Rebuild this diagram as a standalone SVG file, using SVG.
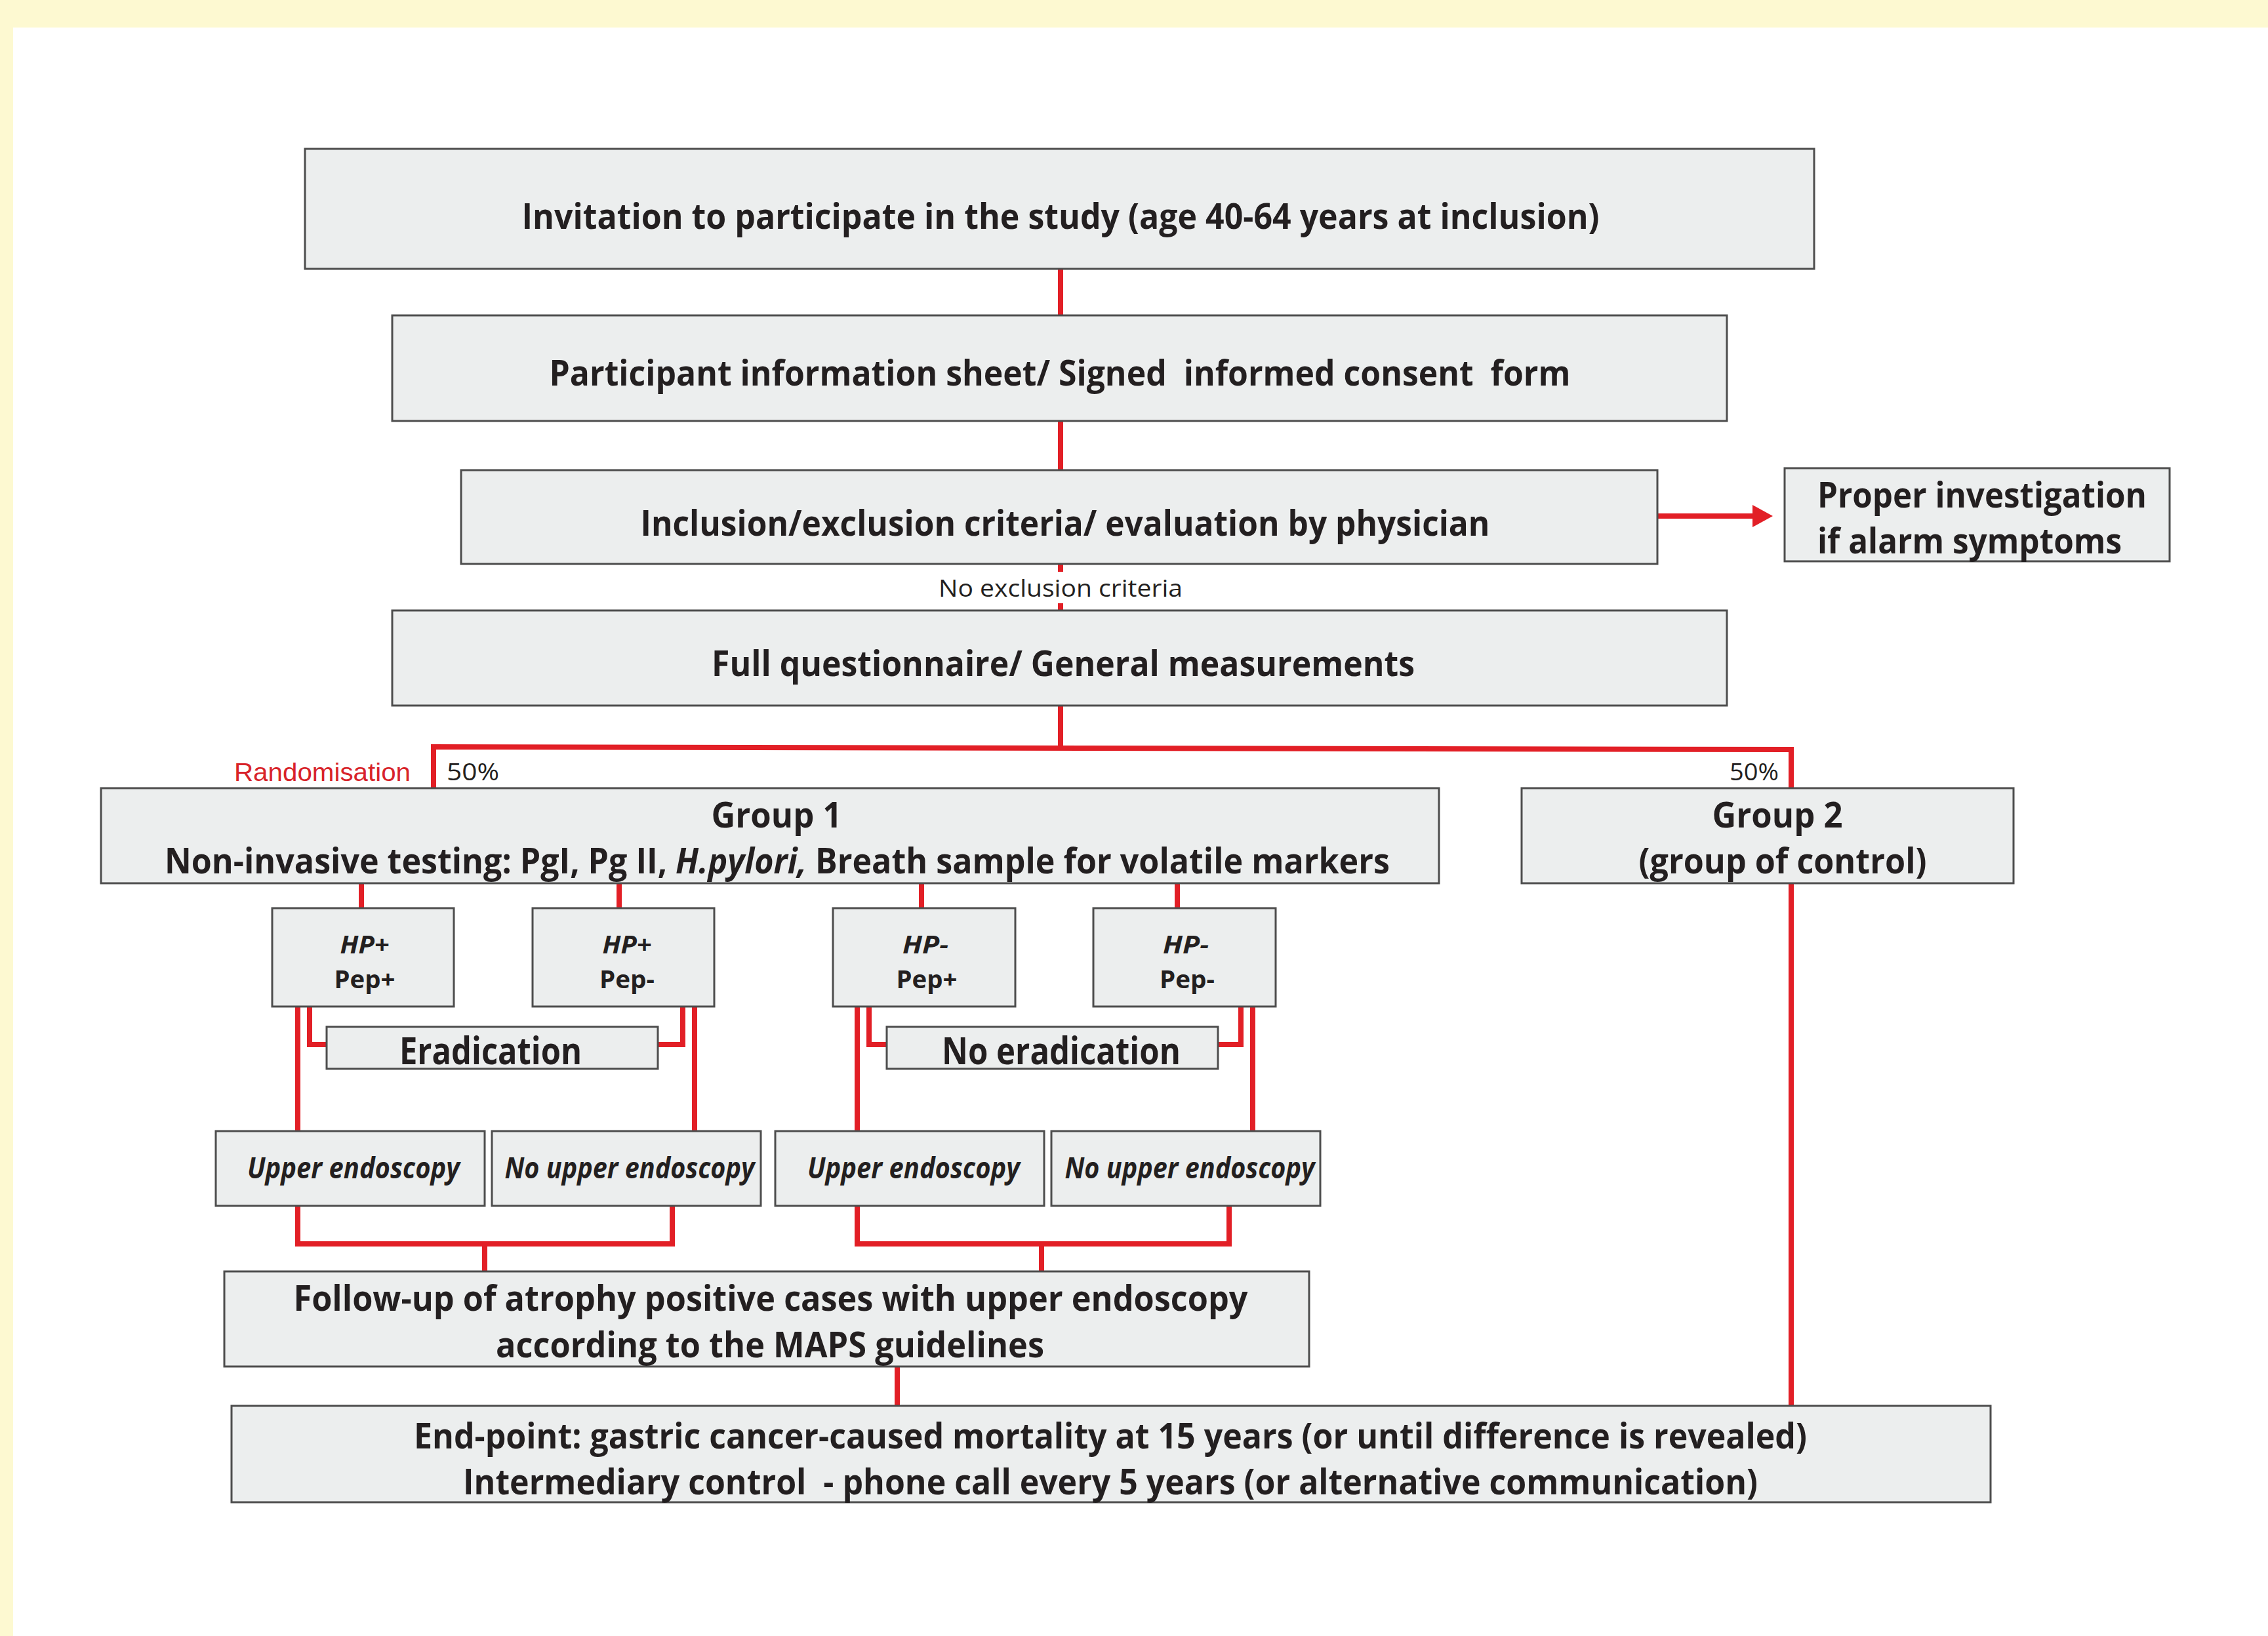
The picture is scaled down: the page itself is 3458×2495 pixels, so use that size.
<svg xmlns="http://www.w3.org/2000/svg" width="3458" height="2495" viewBox="0 0 3458 2495">
<style>
.box{fill:#ECEEEE;stroke:#4D4D4D;stroke-width:3}
.t{font-family:"Open Sans","Noto Sans","DejaVu Sans",sans-serif;font-weight:700;fill:#231F20;text-anchor:middle}
.m{font-size:53px}
.b{font-size:57px}
.s{font-size:38px}
.e{font-size:44px;font-style:italic}
.i{font-style:italic}
.p{white-space:pre}
.r{font-family:"Open Sans","Noto Sans","DejaVu Sans",sans-serif;font-weight:400;fill:#231F20;font-size:37px}
.rd{font-family:"Liberation Sans","Arial",sans-serif;font-weight:400;fill:#D8232A;font-size:39px}
.c{fill:none;stroke:#E21F26;stroke-width:8}
</style>
<rect x="0" y="0" width="3458" height="2495" fill="#FDF9D1"/>
<rect x="20" y="42" width="3438" height="2453" fill="#FFFFFF"/>

<g id="connectors">
<path class="c" d="M1617 410V481M1617 642V717M1617 860V872M1617 920V931"/>
<path class="c" d="M2527 787H2676"/>
<polygon points="2672,770 2703,787 2672,804" fill="#E21F26"/>
<path class="c" d="M1617 1076V1141"/>
<path class="c" d="M661 1202V1139L2731 1143V1202"/>
<path class="c" d="M2731 1347V2144"/>
<path class="c" d="M551 1347V1385M944 1347V1385M1405 1347V1385M1795 1347V1385"/>
<path class="c" d="M454 1535V1725M472 1535V1593H498M1041 1535V1593H1003M1059 1535V1725"/>
<path class="c" d="M1307 1535V1725M1325 1535V1593H1352M1892 1535V1593H1857M1910 1535V1725"/>
<path class="c" d="M454 1839V1897H1025V1839M739 1897V1939"/>
<path class="c" d="M1307 1839V1897H1874V1839M1588 1897V1939"/>
<path class="c" d="M1368 2084V2144"/>
</g>

<g id="invitation">
<rect class="box" x="465" y="227" width="2301" height="183"/>
<text class="t m" x="1617" y="349" textLength="1643" lengthAdjust="spacingAndGlyphs">Invitation to participate in the study (age 40-64 years at inclusion)</text>
</g>
<g id="consent">
<rect class="box" x="598" y="481" width="2035" height="161"/>
<text class="t m p" x="1616" y="588" xml:space="preserve" textLength="1557" lengthAdjust="spacingAndGlyphs">Participant information sheet/ Signed  informed consent  form</text>
</g>
<g id="criteria">
<rect class="box" x="703" y="717" width="1824" height="143"/>
<text class="t m" x="1624" y="817" textLength="1295" lengthAdjust="spacingAndGlyphs">Inclusion/exclusion criteria/ evaluation by physician</text>
</g>
<g id="proper">
<rect class="box" x="2721" y="714" width="587" height="142"/>
<text class="t m" x="2771" y="774" style="text-anchor:start" textLength="502" lengthAdjust="spacingAndGlyphs">Proper investigation</text>
<text class="t m" x="2771" y="844" style="text-anchor:start" textLength="464" lengthAdjust="spacingAndGlyphs">if alarm symptoms</text>
</g>
<g id="no-exclusion-label">
<text class="r" x="1617" y="910" text-anchor="middle" textLength="372" lengthAdjust="spacingAndGlyphs">No exclusion criteria</text>
</g>
<g id="questionnaire">
<rect class="box" x="598" y="931" width="2035" height="145"/>
<text class="t m" x="1621" y="1031" textLength="1072" lengthAdjust="spacingAndGlyphs">Full questionnaire/ General measurements</text>
</g>
<g id="randomisation-labels">
<text class="rd" x="626" y="1191" text-anchor="end" textLength="269" lengthAdjust="spacingAndGlyphs">Randomisation</text>
<text class="r" x="681" y="1190" textLength="80" lengthAdjust="spacingAndGlyphs">50%</text>
<text class="r" x="2637" y="1190" textLength="75" lengthAdjust="spacingAndGlyphs">50%</text>
</g>
<g id="group1">
<rect class="box" x="154" y="1202" width="2040" height="145"/>
<text class="t m" x="1184" y="1262" textLength="199" lengthAdjust="spacingAndGlyphs">Group 1</text>
<text class="t m" x="1185" y="1332" textLength="1868" lengthAdjust="spacingAndGlyphs">Non-invasive testing: PgI, Pg II, <tspan class="i">H.pylori,</tspan> Breath sample for volatile markers</text>
</g>
<g id="group2">
<rect class="box" x="2320" y="1202" width="750" height="145"/>
<text class="t m" x="2710" y="1262" textLength="199" lengthAdjust="spacingAndGlyphs">Group 2</text>
<text class="t m" x="2718" y="1332" textLength="439" lengthAdjust="spacingAndGlyphs">(group of control)</text>
</g>
<g id="hp-pos-pep-pos">
<rect class="box" x="415" y="1385" width="277" height="150"/>
<text class="t s i" x="556" y="1454" textLength="75" lengthAdjust="spacingAndGlyphs">HP+</text>
<text class="t s" x="556" y="1507" textLength="93" lengthAdjust="spacingAndGlyphs">Pep+</text>
</g>
<g id="hp-pos-pep-neg">
<rect class="box" x="812" y="1385" width="277" height="150"/>
<text class="t s i" x="956" y="1454" textLength="75" lengthAdjust="spacingAndGlyphs">HP+</text>
<text class="t s" x="956" y="1507" textLength="84" lengthAdjust="spacingAndGlyphs">Pep-</text>
</g>
<g id="hp-neg-pep-pos">
<rect class="box" x="1270" y="1385" width="278" height="150"/>
<text class="t s i" x="1411" y="1454" textLength="70" lengthAdjust="spacingAndGlyphs">HP-</text>
<text class="t s" x="1413" y="1507" textLength="93" lengthAdjust="spacingAndGlyphs">Pep+</text>
</g>
<g id="hp-neg-pep-neg">
<rect class="box" x="1667" y="1385" width="278" height="150"/>
<text class="t s i" x="1808" y="1454" textLength="70" lengthAdjust="spacingAndGlyphs">HP-</text>
<text class="t s" x="1810" y="1507" textLength="84" lengthAdjust="spacingAndGlyphs">Pep-</text>
</g>
<g id="eradication">
<rect class="box" x="498" y="1566" width="505" height="64"/>
<text class="t b" x="748" y="1623" textLength="278" lengthAdjust="spacingAndGlyphs">Eradication</text>
</g>
<g id="no-eradication">
<rect class="box" x="1352" y="1566" width="505" height="64"/>
<text class="t b" x="1618" y="1623" textLength="364" lengthAdjust="spacingAndGlyphs">No eradication</text>
</g>
<g id="upper-endoscopy-1">
<rect class="box" x="329" y="1725" width="410" height="114"/>
<text class="t e" x="539" y="1797" textLength="324" lengthAdjust="spacingAndGlyphs">Upper endoscopy</text>
</g>
<g id="no-upper-endoscopy-1">
<rect class="box" x="750" y="1725" width="410" height="114"/>
<text class="t e" x="960" y="1797" textLength="381" lengthAdjust="spacingAndGlyphs">No upper endoscopy</text>
</g>
<g id="upper-endoscopy-2">
<rect class="box" x="1182" y="1725" width="410" height="114"/>
<text class="t e" x="1393" y="1797" textLength="324" lengthAdjust="spacingAndGlyphs">Upper endoscopy</text>
</g>
<g id="no-upper-endoscopy-2">
<rect class="box" x="1603" y="1725" width="410" height="114"/>
<text class="t e" x="1814" y="1797" textLength="381" lengthAdjust="spacingAndGlyphs">No upper endoscopy</text>
</g>
<g id="follow-up">
<rect class="box" x="342" y="1939" width="1654" height="145"/>
<text class="t m" x="1175" y="1999" textLength="1455" lengthAdjust="spacingAndGlyphs">Follow-up of atrophy positive cases with upper endoscopy</text>
<text class="t m" x="1174" y="2070" textLength="836" lengthAdjust="spacingAndGlyphs">according to the MAPS guidelines</text>
</g>
<g id="end-point">
<rect class="box" x="353" y="2144" width="2682" height="147"/>
<text class="t m" x="1693" y="2209" textLength="2124" lengthAdjust="spacingAndGlyphs">End-point: gastric cancer-caused mortality at 15 years (or until difference is revealed)</text>
<text class="t m p" x="1693" y="2279" xml:space="preserve" textLength="1974" lengthAdjust="spacingAndGlyphs">Intermediary control  - phone call every 5 years (or alternative communication)</text>
</g>
</svg>
